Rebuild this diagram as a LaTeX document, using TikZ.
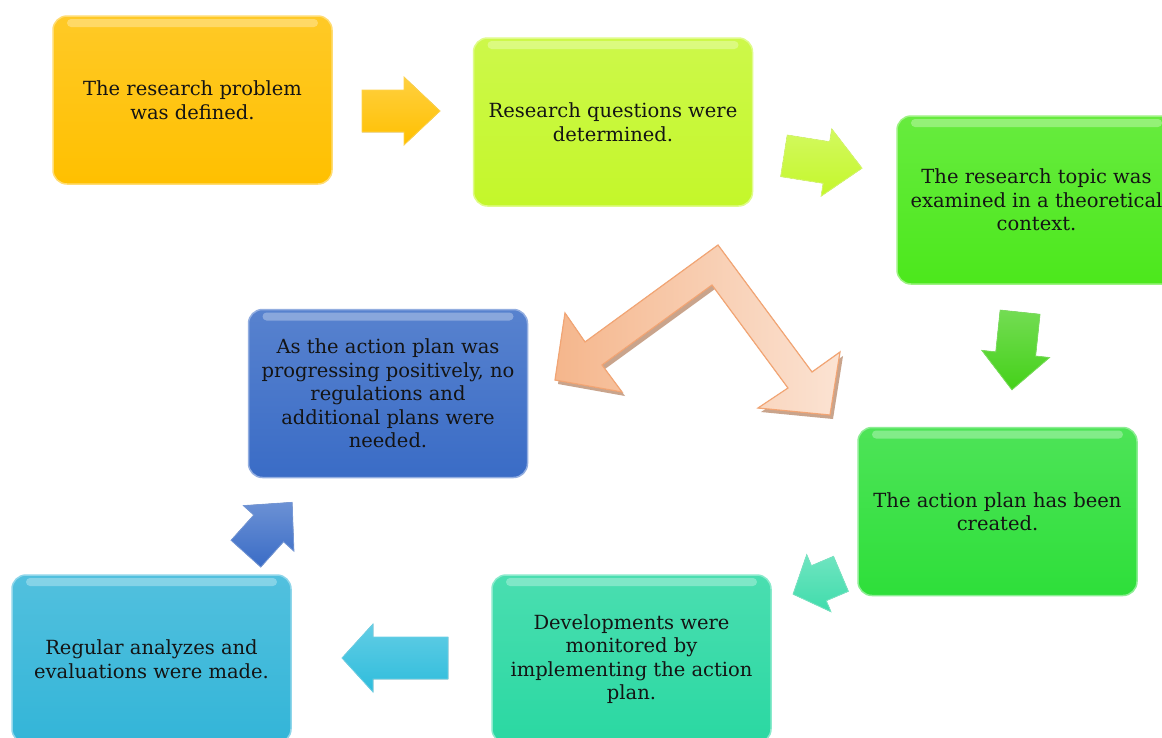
\documentclass[tikz,border=0pt]{standalone}
\usepackage{fontspec}
\setmainfont{DejaVu Serif}

\definecolor{stepYellow}{HTML}{FFC000}
\definecolor{stepLime}{HTML}{C4F72A}
\definecolor{stepGreen}{HTML}{4CE81C}
\definecolor{stepLeaf}{HTML}{2EDF3A}
\definecolor{stepMint}{HTML}{2AD8A2}
\definecolor{stepCyan}{HTML}{33B5D8}
\definecolor{stepBlue}{HTML}{3A6CC6}
\definecolor{peachDark}{HTML}{F5B68C}
\definecolor{peachLight}{HTML}{FBE3D3}
\definecolor{peachLine}{HTML}{F2A574}
\definecolor{peachShadow}{HTML}{C9A48C}
\definecolor{textgray}{HTML}{141414}

% block arrow: centre, angle, length, head length, half head width, half shaft width, style
\newcommand{\blockarrow}[7]{%
  \begin{scope}[shift={#1}, rotate=#2]
    \filldraw[#7] ({-#3/2},{-#6}) -- ({#3/2-#4},{-#6}) -- ({#3/2-#4},{-#5}) -- ({#3/2},0)
      -- ({#3/2-#4},{#5}) -- ({#3/2-#4},{#6}) -- ({-#3/2},{#6}) -- cycle;
  \end{scope}}

\begin{document}
\begin{tikzpicture}[x=1pt, y=-1pt,
  stage/.style={rounded corners=14pt, minimum width=279pt, minimum height=168pt, inner sep=0pt,
    align=center, text=textgray, font=\fontsize{19.5}{23.5}\selectfont, line width=1.5pt,
    draw=#1!55!white, top color=#1!85!white, bottom color=#1,
    path picture={\fill[white, opacity=.3, rounded corners=4pt]
      ([xshift=14pt, yshift=-3pt]path picture bounding box.north west) rectangle
      ([xshift=-14pt, yshift=-11pt]path picture bounding box.north east);}},
  blk/.style={draw=#1!70!white, line width=.8pt, top color=#1!75!white, bottom color=#1}]
	\clip (0,0) rectangle (1162,737);
	\fill[white] (0,0) rectangle (1162,737);
	% steps
	\node[stage=stepYellow] (problem) at (192.5,100) {The research problem\\was defined.};
	\node[stage=stepLime] (questions) at (613,122) {Research questions were\\determined.};
	\node[stage=stepGreen] (theory) at (1036.5,200) {The research topic was\\examined in a theoretical\\context.};
	\node[stage=stepLeaf] (plan) at (997.5,511.5) {The action plan has been\\created.};
	\node[stage=stepMint] (monitor) at (631.5,659) {Developments were\\monitored by\\implementing the action\\plan.};
	\node[stage=stepCyan] (evaluate) at (151.5,659) {Regular analyzes and\\evaluations were made.};
	\node[stage=stepBlue] (result) at (388,393.5) {As the action plan was\\progressing positively, no\\regulations and\\additional plans were\\needed.};
	% arrows between steps
	\blockarrow{(401,111)}{0}{78}{36}{34}{21}{blk=stepYellow}
	\blockarrow{(823,162)}{-9}{79}{36}{34}{21}{blk=stepLime}
	\blockarrow{(1016,351)}{-96}{78}{36}{34}{20}{blk=stepGreen!90!black}
	\blockarrow{(817,584)}{203}{52}{28}{31}{19}{blk=stepMint!90!white}
	\blockarrow{(395,658)}{180}{106}{31}{34}{21}{blk=stepCyan!90!cyan}
	\blockarrow{(269,528)}{48}{69}{35}{34}{20}{blk=stepBlue}
	% bent double arrow
	\fill[peachShadow, shift={(3,4)}] (718,245) -- (812,372) -- (840,352) -- (830,415) -- (758,408) -- (788,388)
	  -- (712,285) -- (602,365) -- (622,392) -- (555,380) -- (565,313) -- (585,342) -- cycle;
	\filldraw[draw=peachLine, line width=1.2pt, left color=peachDark, right color=peachLight]
	  (718,245) -- (812,372) -- (840,352) -- (830,415) -- (758,408) -- (788,388)
	  -- (712,285) -- (602,365) -- (622,392) -- (555,380) -- (565,313) -- (585,342) -- cycle;
\end{tikzpicture}
\end{document}
